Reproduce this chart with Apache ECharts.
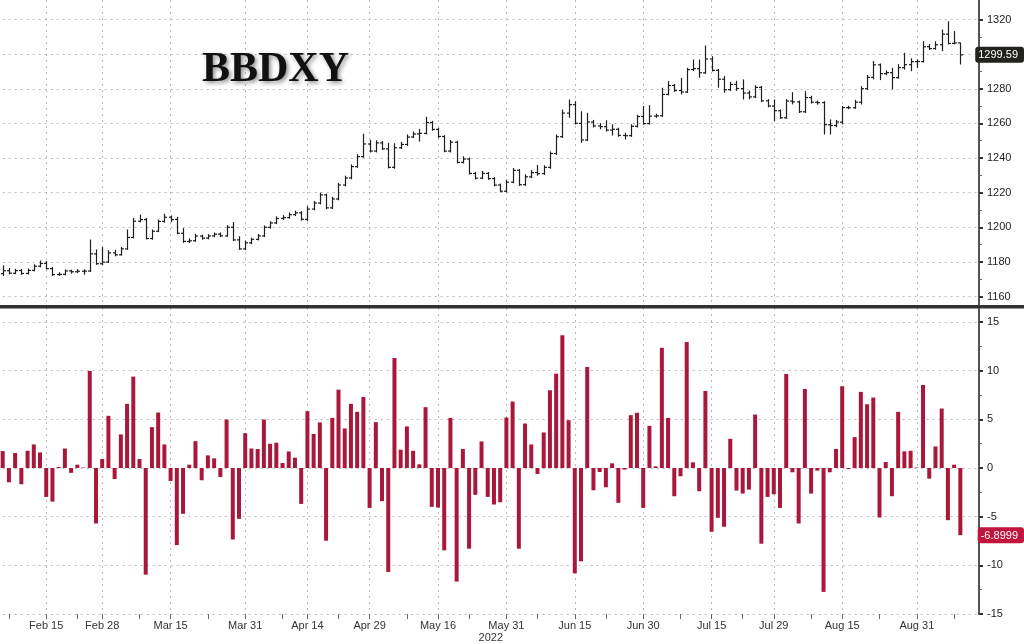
<!DOCTYPE html>
<html><head><meta charset="utf-8">
<script src="https://cdn.jsdelivr.net/npm/echarts@6/dist/echarts.min.js"></script>
<style>html,body{margin:0;padding:0;background:#fff}#c{width:1024px;height:644px}</style>
</head><body><div id="c"></div>
<script>
// ---- categories (trading days, 2022) ----
const dates = [
'Feb 4','Feb 7','Feb 8','Feb 9','Feb 10','Feb 11','Feb 14','Feb 15','Feb 16','Feb 17','Feb 18','Feb 21','Feb 22','Feb 23','Feb 24','Feb 25','Feb 28',
'Mar 1','Mar 2','Mar 3','Mar 4','Mar 7','Mar 8','Mar 9','Mar 10','Mar 11','Mar 14','Mar 15','Mar 16','Mar 17','Mar 18','Mar 21','Mar 22','Mar 23','Mar 24','Mar 25','Mar 28','Mar 29','Mar 30','Mar 31',
'Apr 1','Apr 4','Apr 5','Apr 6','Apr 7','Apr 8','Apr 11','Apr 12','Apr 13','Apr 14','Apr 18','Apr 19','Apr 20','Apr 21','Apr 22','Apr 25','Apr 26','Apr 27','Apr 28','Apr 29',
'May 2','May 3','May 4','May 5','May 6','May 9','May 10','May 11','May 12','May 13','May 16','May 17','May 18','May 19','May 20','May 23','May 24','May 25','May 26','May 27','May 30','May 31',
'Jun 1','Jun 2','Jun 3','Jun 6','Jun 7','Jun 8','Jun 9','Jun 10','Jun 13','Jun 14','Jun 15','Jun 16','Jun 17','Jun 20','Jun 21','Jun 22','Jun 23','Jun 24','Jun 27','Jun 28','Jun 29','Jun 30',
'Jul 1','Jul 4','Jul 5','Jul 6','Jul 7','Jul 8','Jul 11','Jul 12','Jul 13','Jul 14','Jul 15','Jul 18','Jul 19','Jul 20','Jul 21','Jul 22','Jul 25','Jul 26','Jul 27','Jul 28','Jul 29',
'Aug 1','Aug 2','Aug 3','Aug 4','Aug 5','Aug 8','Aug 9','Aug 10','Aug 11','Aug 12','Aug 15','Aug 16','Aug 17','Aug 18','Aug 19','Aug 22','Aug 23','Aug 24','Aug 25','Aug 26','Aug 29','Aug 30','Aug 31',
'Sep 1','Sep 2','Sep 5','Sep 6','Sep 7','Sep 8','Sep 9','Sep 12','Sep 13','Sep 14'];
const labelDates = ['Feb 15','Feb 28','Mar 15','Mar 31','Apr 14','Apr 29','May 16','May 31','Jun 15','Jun 30','Jul 15','Jul 29','Aug 15','Aug 31'];
const minorTickDates = ['Feb 7','Feb 22','Mar 8','Mar 23','Apr 8','Apr 22','May 9','May 23','Jun 7','Jun 22','Jul 8','Jul 22','Aug 8','Aug 23','Sep 8'];
const yearLabel = '2022';
const titleText = 'BBDXY';

// ---- BBDXY OHLC ----
const opens = [1173.2,1174.9,1173.4,1175.0,1173.3,1175.1,1177.5,1179.1,1176.1,1172.7,1172.8,1174.8,1174.3,1174.6,1174.7,1184.6,1178.9,1179.9,1185.2,1184.1,1187.5,1194.1,1203.5,1204.4,1193.5,1197.7,1203.4,1205.8,1204.5,1196.5,1191.8,1192.2,1194.9,1193.7,1195.0,1196.0,1195.0,1200.0,1192.7,1187.5,1191.0,1193.0,1195.0,1200.0,1202.5,1205.1,1205.6,1207.3,1208.3,1204.6,1210.5,1214.0,1218.7,1211.2,1216.3,1224.4,1228.5,1235.0,1240.8,1248.1,1244.0,1248.7,1245.3,1234.6,1245.9,1247.8,1252.1,1253.9,1254.2,1260.5,1256.5,1252.4,1244.0,1249.1,1237.5,1239.4,1231.1,1228.4,1231.1,1228.1,1224.4,1220.8,1226.0,1232.9,1224.6,1229.1,1231.6,1231.0,1234.6,1242.6,1252.3,1265.9,1270.8,1260.0,1250.4,1260.8,1258.5,1258.1,1256.1,1256.6,1253.0,1252.9,1258.3,1264.0,1259.9,1264.2,1264.4,1276.7,1281.9,1279.0,1278.1,1291.1,1291.6,1289.2,1297.2,1290.6,1285.5,1279.5,1282.5,1280.1,1277.5,1275.3,1280.8,1273.0,1270.0,1267.3,1263.2,1272.9,1272.4,1266.7,1274.9,1272.2,1272.0,1259.2,1258.8,1260.7,1269.1,1269.0,1272.2,1280.0,1286.6,1293.8,1288.7,1289.3,1286.4,1292.2,1293.9,1295.7,1295.7,1304.3,1303.2,1305.4,1311.5,1306.2,1306.5];
const highs = [1178.0,1176.5,1176.0,1176.0,1176.2,1178.6,1180.8,1180.5,1177.0,1174.0,1175.6,1175.5,1175.8,1175.7,1192.9,1187.2,1188.5,1186.8,1187.0,1188.6,1198.7,1205.4,1207.3,1205.4,1198.7,1204.4,1207.8,1206.8,1206.0,1199.5,1193.6,1196.2,1195.7,1196.0,1197.0,1197.0,1201.2,1203.0,1194.8,1192.2,1194.0,1196.1,1201.0,1203.5,1206.3,1207.0,1208.5,1209.6,1209.3,1212.2,1215.2,1220.0,1219.4,1217.6,1225.6,1229.8,1236.3,1242.2,1254.0,1250.5,1250.2,1249.8,1248.8,1248.5,1249.3,1253.6,1255.3,1256.8,1263.8,1261.4,1257.4,1253.2,1250.4,1250.0,1241.0,1240.3,1232.0,1232.6,1231.9,1229.0,1225.2,1227.5,1234.2,1233.6,1230.6,1233.0,1236.0,1235.8,1243.8,1253.6,1268.0,1273.8,1272.8,1267.0,1266.1,1262.0,1260.2,1261.8,1259.5,1257.5,1254.6,1259.5,1265.0,1270.0,1270.5,1265.6,1280.6,1284.4,1282.8,1286.3,1292.1,1296.9,1296.9,1305.0,1298.8,1291.5,1287.3,1284.0,1284.6,1285.4,1279.0,1282.0,1281.6,1274.0,1273.8,1268.0,1274.0,1278.0,1273.2,1278.6,1276.0,1273.2,1272.8,1262.3,1262.0,1270.0,1270.2,1273.6,1281.5,1288.0,1296.0,1294.6,1290.6,1292.1,1294.2,1300.8,1297.6,1297.0,1307.5,1305.8,1307.4,1314.2,1319.0,1313.3,1306.6];
const lows = [1171.8,1172.8,1172.9,1172.5,1172.7,1174.5,1176.9,1175.6,1171.8,1171.9,1172.2,1173.2,1173.5,1172.6,1174.2,1178.3,1178.2,1179.4,1183.2,1183.6,1187.0,1193.6,1202.8,1193.0,1192.8,1197.2,1202.6,1203.0,1196.0,1191.0,1190.9,1191.6,1192.8,1193.0,1194.2,1194.3,1194.5,1192.0,1187.0,1186.8,1190.2,1192.4,1194.4,1199.2,1201.8,1204.2,1204.9,1206.5,1203.8,1203.5,1209.8,1213.2,1210.4,1210.5,1215.6,1223.6,1227.8,1234.3,1240.2,1243.2,1243.2,1244.6,1234.0,1233.8,1245.2,1247.0,1251.5,1249.5,1253.6,1255.7,1251.6,1243.3,1243.2,1236.8,1236.8,1230.4,1227.6,1227.8,1227.4,1223.6,1220.2,1220.2,1225.4,1223.9,1223.9,1228.4,1229.8,1230.2,1233.8,1241.8,1251.6,1263.2,1259.4,1248.8,1249.8,1257.6,1256.6,1255.3,1253.0,1252.3,1250.7,1252.2,1257.6,1259.2,1259.3,1263.2,1263.8,1276.2,1278.2,1276.7,1277.6,1290.2,1286.3,1288.6,1290.0,1280.6,1277.7,1278.6,1278.8,1273.8,1273.9,1274.6,1272.3,1269.3,1261.3,1262.6,1262.6,1271.0,1266.0,1266.0,1271.4,1270.8,1253.6,1253.6,1257.8,1259.4,1268.2,1268.4,1270.9,1279.4,1285.4,1285.0,1287.8,1279.6,1285.8,1291.1,1290.2,1292.0,1295.2,1302.4,1302.6,1301.7,1305.6,1305.6,1294.0];
const closes = [1174.90,1173.43,1174.97,1173.30,1175.07,1177.49,1179.09,1176.12,1172.67,1172.77,1174.77,1174.27,1174.61,1174.66,1184.63,1178.93,1179.85,1185.21,1184.08,1187.53,1194.12,1203.51,1204.43,1193.47,1197.67,1203.37,1205.79,1204.46,1196.54,1191.83,1192.17,1194.93,1193.67,1194.97,1195.96,1195.04,1200.02,1192.68,1187.46,1191.04,1193.04,1194.99,1199.97,1202.46,1205.06,1205.57,1207.27,1208.33,1204.64,1210.48,1213.98,1218.66,1211.19,1216.34,1224.39,1228.45,1235.04,1240.81,1248.11,1244.01,1248.72,1245.31,1234.63,1245.93,1247.81,1252.08,1253.85,1254.23,1260.48,1256.49,1252.43,1243.97,1249.12,1237.45,1239.40,1231.11,1228.35,1231.08,1228.11,1224.36,1220.84,1226.03,1232.86,1224.57,1229.14,1231.56,1230.95,1234.60,1242.59,1252.28,1265.93,1270.84,1260.02,1250.43,1260.81,1258.52,1258.11,1256.13,1256.61,1253.03,1252.86,1258.29,1263.96,1259.86,1264.19,1264.36,1276.71,1281.86,1278.96,1278.11,1291.05,1291.63,1289.24,1297.16,1290.61,1285.49,1279.45,1282.45,1280.13,1277.50,1275.28,1280.77,1272.99,1270.02,1267.32,1263.22,1272.88,1272.44,1266.74,1274.86,1272.23,1271.96,1259.23,1258.79,1260.74,1269.14,1269.04,1272.21,1280.03,1286.58,1293.82,1288.73,1289.34,1286.44,1292.21,1293.92,1295.69,1295.74,1304.27,1303.18,1305.40,1311.51,1306.15,1306.49,1299.59];

// ---- daily change ----
const changes = [1.74,-1.47,1.54,-1.67,1.77,2.42,1.6,-2.97,-3.45,0.1,2.0,-0.5,0.34,0.05,9.97,-5.7,0.92,5.36,-1.13,3.45,6.59,9.39,0.92,-10.96,4.2,5.7,2.42,-1.33,-7.92,-4.71,0.34,2.76,-1.26,1.3,0.99,-0.92,4.98,-7.34,-5.22,3.58,2.0,1.95,4.98,2.49,2.6,0.51,1.7,1.06,-3.69,5.84,3.5,4.68,-7.47,5.15,8.05,4.06,6.59,5.77,7.3,-4.1,4.71,-3.41,-10.68,11.3,1.88,4.27,1.77,0.38,6.25,-3.99,-4.06,-8.46,5.15,-11.67,1.95,-8.29,-2.76,2.73,-2.97,-3.75,-3.52,5.19,6.83,-8.29,4.57,2.42,-0.61,3.65,7.99,9.69,13.65,4.91,-10.82,-9.59,10.38,-2.29,-0.41,-1.98,0.48,-3.58,-0.17,5.43,5.67,-4.1,4.33,0.17,12.35,5.15,-2.9,-0.85,12.94,0.58,-2.39,7.92,-6.55,-5.12,-6.04,3.0,-2.32,-2.63,-2.22,5.49,-7.78,-2.97,-2.7,-4.1,9.66,-0.44,-5.7,8.12,-2.63,-0.27,-12.73,-0.44,1.95,8.4,-0.1,3.17,7.82,6.55,7.24,-5.09,0.61,-2.9,5.77,1.71,1.77,0.05,8.53,-1.09,2.22,6.11,-5.36,0.34,-6.8999];

// ---- axis tick values ----
const priceAxis = {min: 1160, max: 1320, interval: 20};
const changeAxis = {min: -15, max: 15, interval: 5};

const FONT = '"Liberation Sans",Arial,sans-serif';
const GRID_L = 2.7, GRID_R = 45;
const gridColor = '#b9b9b9';
const labelSet = new Set(labelDates);
const tickSet = new Set(labelDates.concat(minorTickDates));

const chart = echarts.init(document.getElementById('c'), null, {renderer: 'canvas'});

const ohlc = closes.map((c, i) => [i, opens[i], c, lows[i], highs[i]]);

const hiddenX = (gi) => ({type: 'category', gridIndex: gi, data: dates, boundaryGap: false, show: false});
const bgY = (gi) => ({type: 'value', gridIndex: gi, min: 0, max: 1, position: 'right',
  axisLine: {show: true, onZero: false, lineStyle: {color: '#555', width: 2}},
  axisLabel: {show: false}, axisTick: {show: false}, splitLine: {show: false}});

const mainY = (gi, cfg, ptrValue, ptrBg, ptrFmt) => ({
  type: 'value', gridIndex: gi, position: 'right', min: cfg.min, max: cfg.max, interval: cfg.interval,
  axisLine: {show: false},
  axisTick: {show: true, length: 4, lineStyle: {color: '#333', width: 2}},
  minorTick: {show: true, splitNumber: 2, length: 3, lineStyle: {color: '#666', width: 1}},
  axisLabel: {color: '#222', fontSize: 11, fontFamily: FONT, margin: 8, formatter: (v) => String(v)},
  splitLine: {show: true, lineStyle: {color: gridColor, type: [2, 4], width: 1}},
  axisPointer: {show: true, type: 'line', snap: false, value: ptrValue, status: 'show', triggerTooltip: false,
    lineStyle: {opacity: 0},
    label: {show: true, formatter: ptrFmt, backgroundColor: ptrBg, color: '#fff', fontSize: 11, fontFamily: FONT,
      padding: [3, 6, 2, 3], borderRadius: 3, margin: 7}}
});

const option = {
  animation: false,
  backgroundColor: '#fff',
  tooltip: {show: true, triggerOn: 'none', showContent: false},
  grid: [
    {left: GRID_L, right: GRID_R, top: 19.5, height: 277},
    {left: GRID_L, right: GRID_R, top: 322, height: 292},
    {left: GRID_L, right: GRID_R, top: 0, height: 305},
    {left: GRID_L, right: GRID_R, top: 308, height: 309}
  ],
  xAxis: [
    hiddenX(0),
    hiddenX(1),
    {type: 'category', gridIndex: 2, data: dates, boundaryGap: false,
      axisLine: {show: false}, axisTick: {show: false}, axisLabel: {show: false},
      splitLine: {show: true, interval: (i, v) => labelSet.has(v), lineStyle: {color: gridColor, type: [2, 4]}}},
    {type: 'category', gridIndex: 3, data: dates, boundaryGap: false, position: 'bottom',
      name: yearLabel, nameLocation: 'middle', nameGap: 16,
      nameTextStyle: {color: '#333', fontSize: 11, fontFamily: FONT},
      axisLine: {show: false},
      axisTick: {show: true, interval: (i, v) => tickSet.has(v), length: 5, lineStyle: {color: '#666'}},
      axisLabel: {show: true, interval: (i, v) => labelSet.has(v), color: '#333', fontSize: 11, fontFamily: FONT, margin: 6},
      splitLine: {show: true, interval: (i, v) => labelSet.has(v), lineStyle: {color: gridColor, type: [2, 4]}}}
  ],
  yAxis: [
    mainY(0, priceAxis, closes[closes.length - 1], '#23231d', (p) => Number(p.value).toFixed(2)),
    mainY(1, changeAxis, changes[changes.length - 1], '#c0153d', (p) => Number(p.value).toFixed(4)),
    bgY(2),
    bgY(3)
  ],
  series: [
    {type: 'custom', xAxisIndex: 0, yAxisIndex: 0, data: ohlc, encode: {x: 0, y: [1, 2, 3, 4]},
      renderItem: (params, api) => {
        const i = api.value(0);
        const o = api.coord([i, api.value(1)]);
        const c = api.coord([i, api.value(2)]);
        const l = api.coord([i, api.value(3)]);
        const h = api.coord([i, api.value(4)]);
        const x = Math.round(o[0]) + 0.5;
        const st = {stroke: '#1e1e1e', lineWidth: 1.2};
        return {type: 'group', children: [
          {type: 'line', shape: {x1: x, y1: h[1], x2: x, y2: l[1]}, style: st},
          {type: 'line', shape: {x1: x - 2.5, y1: o[1], x2: x, y2: o[1]}, style: st},
          {type: 'line', shape: {x1: x, y1: c[1], x2: x + 2.5, y2: c[1]}, style: st}
        ]};
      }},
    {type: 'bar', xAxisIndex: 1, yAxisIndex: 1, data: changes, barWidth: 4,
      itemStyle: {color: '#a9183b'}}
  ],
  graphic: [
    {type: 'rect', left: 0, top: 305, shape: {width: 1024, height: 3.5}, style: {fill: '#333'}, z: 10},
    {type: 'text', x: 202, y: 49, z: 10,
      style: {text: titleText, font: 'bold 42px "Liberation Serif", "Times New Roman", serif', fill: '#111',
        verticalAlign: 'top', shadowBlur: 4, shadowColor: 'rgba(0,0,0,0.45)', shadowOffsetX: 2, shadowOffsetY: 2,
        textShadowBlur: 4, textShadowColor: 'rgba(0,0,0,0.45)', textShadowOffsetX: 2, textShadowOffsetY: 2}}
  ]
};
chart.setOption(option);
</script>
</body></html>
